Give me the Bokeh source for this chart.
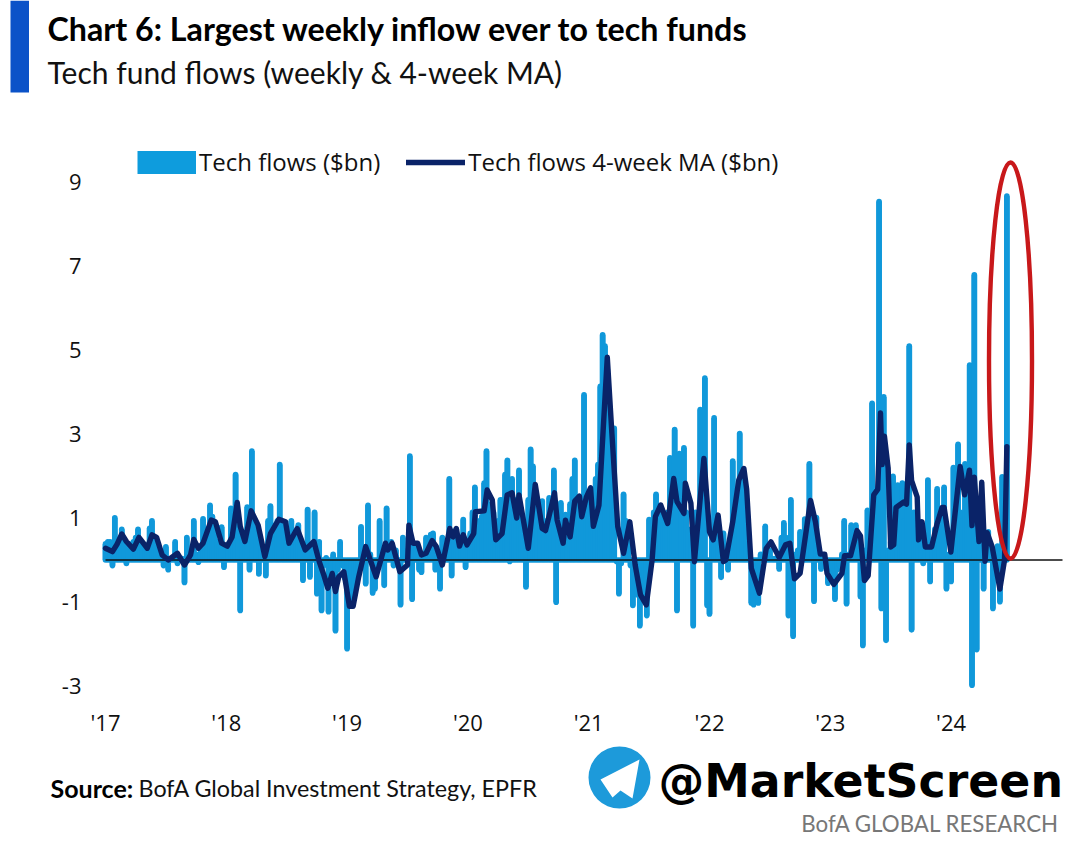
from bokeh.plotting import figure
from bokeh.models import Legend, LegendItem, FixedTicker, ColumnDataSource
from bokeh.core.properties import value
from bokeh.embed import file_html
from bokeh.resources import INLINE

flows_2017 = [.45,.5,.5,-.2,1.07,.3,.4,.8,.5,-.15,.45,.4,.5,.6,.8,.45,.4,.35,.35,.82,1.0,.6,.4,.2,.1,-.2,.38,-.3,.1,.1,.5,-.15,.1,.1,-.6,.6,.15,.2,1.0,.2,-.12,.3,1.05,.5,.7,1.37,1.1,.8,.5,.4,.85,-.24]
flows_2018 = [.4,.45,1.3,.9,2.1,.9,-1.27,.6,.7,1.33,-.3,2.66,1.0,.8,-.4,.5,.3,-.44,1.0,1.35,.8,.9,1.0,2.34,.8,.9,.5,.6,1.0,.7,.6,.9,.5,-.55,.3,1.27,-.47,.4,1.2,-.87,.5,-1.27,-.2,.12,-1.3,-.3,.2,-1.75,-.3,.5,-.2,-.5]
flows_2019 = [-2.18,-1.0,-1.1,-.8,-.5,-.4,.86,.2,-.63,1.37,.2,-.85,-.75,-.3,1.0,.2,-.67,1.3,.4,.5,-.2,.3,-.2,-1.13,.6,.1,.3,2.54,-1.0,.4,.4,-.3,-.36,.2,.6,.3,.67,.7,-.3,.2,-.75,.6,.3,.4,2.0,-.44,.5,.8,.4,.5,1.03,-.24]
flows_2020 = [.5,.7,1.2,1.8,.8,1.0,1.1,1.9,2.66,1.2,1.4,1.2,.8,1.0,1.5,1.5,2.1,2.44,-.1,2.0,1.3,1.5,2.2,.9,.7,-.71,1.5,2.7,2.3,1.3,1.2,1.2,1.47,.9,1.0,1.55,1.2,2.2,-1.07,.9,1.43,.8,1.15,.9,1.4,2.0,2.44,1.2,1.4,1.0,4.0,1.3]
flows_2021 = [1.5,1.0,1.2,2.0,2.34,4.2,5.43,5.16,4.6,3.5,2.3,3.2,-.1,-.87,-.15,1.63,1.0,.7,-.2,-1.15,-.6,-.9,-1.63,-.9,-.7,-1.39,1.03,.3,1.2,1.63,1.3,1.1,.9,1.0,1.2,2.5,2.0,3.17,-1.27,2.6,1.4,2.74,1.2,.8,.6,-1.63,1.2,.8,3.65,2.2,4.4,-1.15]
flows_2022 = [-1.35,.8,3.45,.9,.8,-.48,.7,.3,-.3,.5,2.42,.9,1.5,3.08,1.6,2.0,1.2,.5,-1.09,-1.13,-.5,-1.09,.2,.2,.87,.3,.3,.1,.1,.05,-.28,.6,.95,.6,-1.39,1.5,-1.88,.2,.3,.74,.5,1.04,.8,2.36,1.0,-1.05,1.08,.2,-.28,.1,-.2,-.62]
flows_2023 = [-.5,-.4,-1.0,-.3,-.2,.2,1.0,-1.11,.2,.9,.3,.9,.5,-.94,-2.1,.3,1.25,.5,3.8,1.5,1.7,8.6,-1.22,3.95,-1.98,.3,.5,2.06,1.0,1.85,1.2,1.9,1.0,1.3,5.16,-1.73,1.2,1.0,.5,.7,-.15,.4,1.97,-.58,.4,.8,1.76,.7,1.0,1.8,-.75,.2]
flows_2024 = [-.58,2.27,.8,2.82,1.2,1.0,2.36,1.5,4.71,-3.05,6.86,-2.2,1.0,.8,-.75,.3,.74,.4,-1.22,.2,.4,-1.06,2.05,.3,8.73]

ma_week = [0,3,5,7,9,12,14.4,18,20,22,24.4,27,31,34,36.6,38,40,42,45.5,47.3,50,52.4,54.5,56.7,58,60,62.7,65.7,68.6,71,74.6,77.5,79,82.5,86,89.7,92,94,95.7,97.6,99,100.4,102.6,105,106.6,109,112,116.5,120.5,121.5,123.4,126.7,130,130.6,132.4,134.4,136,138,140.6,142.4,145,148.2,149.6,151,152.4,154,155.6,158.5,159.2,163,164.3,166.5,168,170.7,172.9,175,177,178,182,185,188,189.4,191.6,193.3,194.4,197,198,200,202,204,205,207,208.8,210,212.4,216,218,220.5,223,225.7,228,230.3,232.8,235.3,236.7,239,242,244.6,246,249,249.6,252,253.5,257.6,260,261.6,263.7,266,267,270,272.6,274.8,276,278,281.5,284.4,286.5,290,292.7,294.6,296.6,299,303.5,305.6,307.7,309.6,310.6,313.5,317,318.1,320.7,323.5,325,326.7,328.3,330.7,332.4,333.6,334.3,335.3,336.9,338,339.3,340.3,343.6,344.8,346,347,349.4,350,351.5,352.9,355.6,358,360.1,361,363.9,367.9,369.8,371.9,373,374,376,377.2,378.6,379.5,381.7,385,387,388]
ma_value = [.28,.2,.38,.62,.44,.26,.54,.28,.6,.54,.12,0,.16,-.12,.12,.49,.28,.4,.95,.91,.4,.33,.55,1.37,.8,.44,1.17,.83,.08,.63,.97,.91,.4,.75,.24,.44,-.04,-.36,-.67,-.32,-.75,-.4,-.28,-1.1,-1.1,-.4,.32,-.4,.4,.24,.4,-.28,-.12,.83,.4,.4,.12,.16,.46,.32,-.12,.75,.55,.75,.33,.6,.36,.63,1.15,1.17,1.67,1.43,.48,.63,1.55,1.6,1.0,1.55,.28,1.8,.75,.7,1.2,1.6,.95,.4,.95,.55,1.4,1.52,1.03,1.5,1.72,.8,1.3,4.83,3.0,.8,.16,.91,-.12,-.83,-1.07,0,1.03,1.31,.87,1.94,1.39,1.11,1.83,1.35,-.04,2.42,.67,.48,1.07,-.04,0,.91,1.9,2.18,1.68,-.2,-.79,.27,.43,.06,.36,.4,-.45,-.32,1.42,.91,.14,.14,-.32,-.58,-.32,.1,.1,.7,.57,-.49,-.37,1.55,1.68,3.5,2.27,2.95,2.19,.31,.36,1.25,1.38,1.33,2.74,1.89,1.5,.48,.91,.31,.31,.87,1.25,1.25,.19,2.23,1.55,2.14,.82,1.97,.44,1.85,-.03,.65,.31,-.69,0,2.7]

year_ticks = [2017, 2018, 2019, 2020, 2021, 2022, 2023, 2024]
year_labels = ["'17", "'18", "'19", "'20", "'21", "'22", "'23", "'24"]
value_ticks = [-3, -1, 1, 3, 5, 7, 9]

title = "Chart 6: Largest weekly inflow ever to tech funds"
subtitle = "Tech fund flows (weekly & 4-week MA)"
bars_label = "Tech flows ($bn)"
line_label = "Tech flows 4-week MA ($bn)"

BAR = "#1098DA"
NAVY = "#0A2368"

flows = flows_2017 + flows_2018 + flows_2019 + flows_2020 + flows_2021 + flows_2022 + flows_2023 + flows_2024

PX_PER_YEAR = 120.8
PX_PER_UNIT = 42.0
BAR_PX = 5.6
def X(px): return 2017 + (px - 105) / PX_PER_YEAR
def Y(py): return (559.5 - py) / PX_PER_UNIT
def week_x(w): return 2017 + w / 52.0

p = figure(width=1079, height=844, output_backend="svg", toolbar_location=None,
           x_range=(X(0), X(1079)), y_range=(Y(844), Y(0)),
           min_border=0, min_border_left=0, min_border_right=0, min_border_top=0, min_border_bottom=0,
           outline_line_color=None)
p.grid.visible = False

for ax, ticks, fixed in ((p.xaxis[0], year_ticks, Y(700)), (p.yaxis[0], value_ticks, X(87))):
    ax.ticker = FixedTicker(ticks=ticks)
    ax.fixed_location = fixed
    ax.axis_line_color = None
    ax.major_tick_line_color = None
    ax.minor_tick_line_color = None
    ax.major_label_text_font = "Open Sans"
    ax.major_label_text_font_size = "22px"
    ax.major_label_text_color = "#111111"
p.xaxis[0].major_label_overrides = dict(zip(year_ticks, year_labels))
p.yaxis[0].major_label_overrides = {t: str(t) for t in value_ticks}
p.xaxis[0].major_label_standoff = 0
p.yaxis[0].major_label_standoff = 0

# the round caps reach half a bar width past the value they end on
cap = BAR_PX / 2 / PX_PER_UNIT
ends = [v - cap if v > cap else v + cap if v < -cap else 0 for v in flows]
src = ColumnDataSource(dict(x=[week_x(i) for i in range(len(flows))], end=ends, base=[0] * len(flows)))
p.vbar(x="x", top="end", bottom=0, width=BAR_PX / PX_PER_YEAR, source=src,
       fill_color=BAR, line_color=None)
p.segment(x0="x", y0="base", x1="x", y1="end", source=src, line_color=BAR, line_width=BAR_PX, line_cap="round")

p.line([X(105), X(1062)], [0, 0], line_color="#111111", line_width=1.6)

ma = p.line([week_x(w) for w in ma_week], ma_value, line_color=NAVY, line_width=5.4,
            line_join="round", line_cap="round")

# red highlight ellipse
p.ellipse(x=[X(1010)], y=[Y(360)], width=[43 / PX_PER_YEAR], height=[396 / PX_PER_UNIT],
          fill_color=None, line_color="#C8181A", line_width=4.4)

# legend swatch: a thick key that only shows in the legend
nan = float("nan")
swatch = p.line([nan, nan], [nan, nan], line_color="#0E9CDD", line_width=23)
legend = Legend(items=[LegendItem(label=bars_label, renderers=[swatch]),
                       LegendItem(label=line_label, renderers=[ma])],
                location=(137, 666), orientation="horizontal", background_fill_alpha=0,
                border_line_color=None, padding=0, margin=0, spacing=26,
                glyph_width=59, glyph_height=24, label_standoff=3,
                label_text_font="Open Sans", label_text_font_size="24px", label_text_color="#111111")
p.add_layout(legend, "center")

# header bar
p.quad(left=[X(10)], right=[X(28.5)], top=[Y(0)], bottom=[Y(92)], fill_color="#0B52C8", line_color=None)

def txt(px, py, s, font, size, style="normal", color="#111111", align="left"):
    p.text([X(px)], [Y(py)], text=[s], text_font=value(font), text_font_size=size, text_font_style=style,
           text_color=color, text_align=align, text_baseline="middle")

txt(47, 28, title, "Lato", "32.2px", "bold", "#000000")
txt(47, 71, subtitle, "Lato", "30px", "normal", "#111111")
txt(50, 787, "Source:", "Lato", "25px", "bold", "#000000")
txt(138, 787, "BofA Global Investment Strategy, EPFR", "Lato", "23.3px")
txt(1059, 823, "BofA GLOBAL RESEARCH", "Lato", "22.3px", "normal", "#777777", "right")

# watermark
p.scatter([X(619)], [Y(777)], size=62, marker="circle", fill_color="#1D9ADA", line_color=None)
p.patch([X(600), X(639), X(632), X(620), X(612)], [Y(779), Y(759), Y(798), Y(790), Y(797)],
        fill_color="#FFFFFF", line_color=None)
txt(658, 780, "@MarketScreen", "DejaVu Sans", "45.8px", "bold", "#000000")

open("out.html", "w").write(file_html(p, INLINE))
